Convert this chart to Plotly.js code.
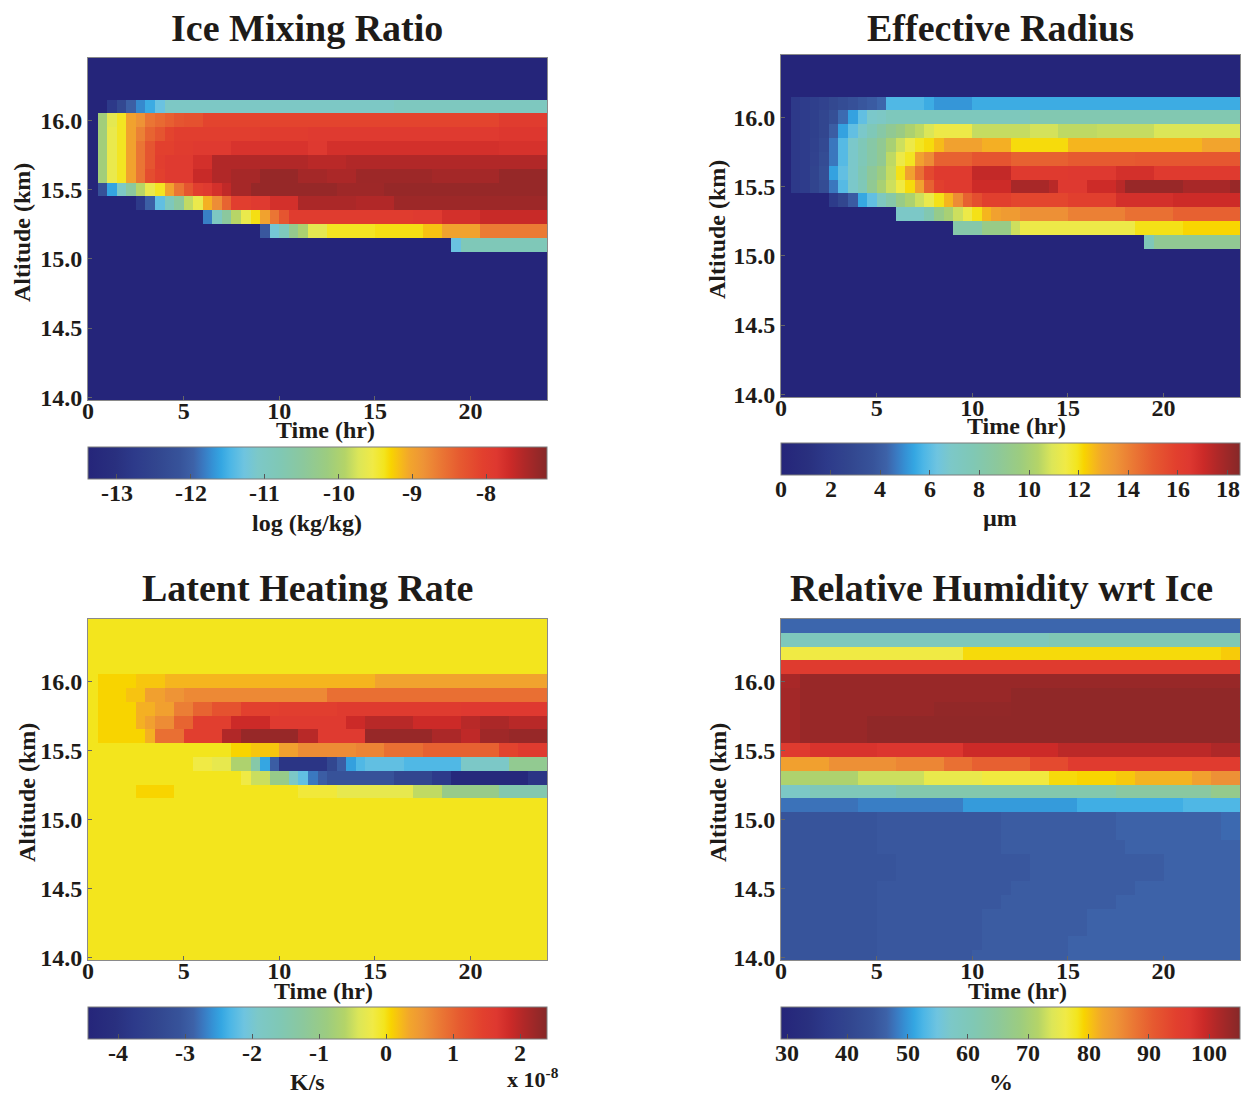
<!DOCTYPE html>
<html>
<head>
<meta charset="utf-8">
<script src="https://cdn.plot.ly/plotly-3.0.1.min.js"></script>
<style>
  html, body { margin: 0; padding: 0; background: #ffffff; }
  #chart { width: 1243px; height: 1095px; }
</style>
</head>
<body>
<div id="chart"></div>
<script>
// ---------------- DATA ----------------
// time (hr): cell centres, 0.5 hr bins
const timeHr = [0.25,0.75,1.25,1.75,2.25,2.75,3.25,3.75,4.25,4.75,5.25,5.75,6.25,6.75,7.25,7.75,
  8.25,8.75,9.25,9.75,10.25,10.75,11.25,11.75,12.25,12.75,13.25,13.75,14.25,14.75,15.25,15.75,
  16.25,16.75,17.25,17.75,18.25,18.75,19.25,19.75,20.25,20.75,21.25,21.75,22.25,22.75,23.25,23.75];
// altitude (km): cell centres, bottom to top
const altKm = [14.0,14.1,14.2,14.3,14.4,14.5,14.6,14.7,14.8,14.9,15.0,15.1,15.2,15.3,15.4,15.5,15.6,15.7,15.8,15.9,16.0,16.1,16.2,16.3,16.4];

const timeTicks = [0,5,10,15,20];
const altTicks = [14.0,14.5,15.0,15.5,16.0];

// Each row = run-length list of [number of 0.5-hr cells, value], rows ordered as altKm.
// Ice mixing ratio, log10(kg/kg)
const iceRows = [
  [[48,-13.4]],[[48,-13.4]],[[48,-13.4]],[[48,-13.4]],[[48,-13.4]],[[48,-13.4]],
  [[48,-13.4]],[[48,-13.4]],[[48,-13.4]],[[48,-13.4]],[[48,-13.4]],
  /*15.1*/[[38,-13.4],[1,-11.3],[9,-10.85]],
  /*15.2*/[[18,-13.4],[1,-12.1],[1,-11.2],[1,-10.9],[1,-10.3],[1,-10.0],[2,-9.65],[5,-9.4],[5,-9.35],[2,-9.2],[4,-9.0],[7,-8.65]],
  /*15.3*/[[12,-13.4],[1,-11.8],[1,-11.0],[1,-10.5],[1,-9.9],[1,-9.6],[1,-9.35],[1,-9.0],[1,-8.6],[1,-8.3],[13,-7.95],[3,-7.9],[4,-7.75],[7,-7.65]],
  /*15.4*/[[5,-13.4],[1,-12.8],[1,-12.0],[1,-11.35],[1,-10.9],[1,-10.5],[1,-9.85],[1,-9.6],[1,-9.1],[1,-8.8],[1,-8.45],[2,-8.0],[2,-7.9],[3,-7.75],[6,-7.45],[4,-7.5],[16,-7.35]],
  /*15.5*/[[1,-13.4],[1,-12.2],[1,-11.6],[1,-11.05],[1,-10.5],[1,-9.9],[1,-9.6],[1,-9.4],[1,-9.0],[1,-8.6],[1,-8.3],[1,-8.0],[1,-7.9],[1,-7.75],[1,-7.6],[2,-7.42],[9,-7.3],[5,-7.36],[17,-7.3]],
  /*15.6*/[[1,-13.4],[1,-10.1],[1,-9.6],[1,-9.4],[1,-9.0],[1,-8.6],[1,-8.2],[1,-8.05],[3,-7.9],[2,-7.65],[2,-7.5],[3,-7.42],[4,-7.3],[3,-7.4],[3,-7.45],[8,-7.35],[7,-7.4],[5,-7.3]],
  /*15.7*/[[1,-13.4],[1,-10.1],[1,-9.6],[1,-9.4],[1,-9.0],[1,-8.6],[1,-8.3],[1,-8.0],[3,-7.9],[2,-7.75],[10,-7.5],[4,-7.55],[21,-7.5]],
  /*15.8*/[[1,-13.4],[1,-10.1],[1,-9.6],[1,-9.4],[1,-9.0],[1,-8.6],[1,-8.3],[2,-8.05],[2,-7.95],[4,-7.9],[8,-7.8],[2,-7.88],[18,-7.75],[5,-7.78]],
  /*15.9*/[[1,-13.4],[1,-10.1],[1,-9.6],[1,-9.4],[1,-9.0],[1,-8.7],[1,-8.45],[1,-8.3],[1,-8.1],[9,-8.0],[5,-7.95],[20,-7.9],[5,-7.85]],
  /*16.0*/[[1,-13.4],[1,-10.1],[1,-9.65],[1,-9.4],[1,-9.0],[1,-8.85],[1,-8.6],[1,-8.5],[1,-8.4],[1,-8.3],[2,-8.25],[31,-8.1],[5,-7.95]],
  /*16.1*/[[2,-13.4],[1,-12.8],[1,-12.4],[1,-12.0],[1,-11.75],[1,-11.55],[1,-11.3],[24,-11.05],[16,-10.95]],
  [[48,-13.4]],[[48,-13.4]],[[48,-13.4]]
];

// Effective radius, micrometres
const reffRows = [
  [[48,0]],[[48,0]],[[48,0]],[[48,0]],[[48,0]],[[48,0]],
  [[48,0]],[[48,0]],[[48,0]],[[48,0]],[[48,0]],
  /*15.1*/[[38,0],[1,7.6],[9,9.0]],
  /*15.2*/[[18,0],[3,8.2],[3,9.4],[1,10.7],[12,11.4],[5,12.0],[6,12.2]],
  /*15.3*/[[12,0],[3,6.9],[1,7.9],[1,9.3],[1,10.0],[1,10.7],[1,11.4],[1,12.0],[1,12.7],[1,13.1],[2,13.3],[5,13.6],[6,14.0],[5,14.4],[7,14.8]],
  /*15.4*/[[5,0],[1,1.9],[1,2.8],[1,4.0],[1,5.4],[1,6.1],[1,7.2],[1,8.2],[1,9.4],[1,10.1],[1,10.7],[1,11.3],[1,12.0],[1,12.7],[1,13.7],[1,14.8],[1,15.4],[3,16.0],[6,15.7],[5,16.0],[6,16.8],[7,17.0]],
  /*15.5*/[[1,0],[1,1.8],[1,2.0],[1,2.6],[1,3.2],[1,4.6],[1,5.9],[1,6.8],[1,7.6],[1,9.0],[1,10.0],[1,10.7],[1,11.5],[1,12.1],[1,13.1],[1,14.8],[1,16.0],[3,16.3],[4,17.0],[4,17.75],[1,17.4],[3,16.4],[3,17.0],[1,17.4],[6,18.1],[5,17.75],[1,18.1]],
  /*15.6*/[[1,0],[1,1.8],[1,2.0],[1,2.6],[1,3.4],[1,5.3],[1,6.1],[1,6.8],[1,7.8],[1,8.8],[1,9.6],[1,10.6],[1,12.0],[1,13.1],[1,14.4],[1,15.6],[4,16.3],[4,17.2],[6,16.3],[5,16.4],[4,16.8],[9,16.3]],
  /*15.7*/[[1,0],[1,1.8],[1,2.0],[1,2.5],[1,3.2],[1,4.6],[1,5.9],[1,6.8],[1,7.6],[1,8.3],[1,9.0],[1,10.5],[1,11.4],[1,11.9],[1,13.1],[1,13.7],[4,14.8],[4,15.2],[6,14.8],[7,15.0],[11,15.1]],
  /*15.8*/[[1,0],[1,1.8],[1,2.0],[1,2.4],[1,3.0],[1,4.6],[1,5.9],[1,6.8],[1,7.6],[1,8.3],[1,9.0],[1,10.0],[1,10.7],[1,11.4],[1,11.9],[1,12.1],[1,12.6],[4,13.1],[3,12.8],[6,12.1],[14,12.7],[4,13.0]],
  /*15.9*/[[1,0],[1,1.8],[1,2.0],[1,2.3],[1,2.8],[1,4.1],[1,5.3],[1,6.1],[1,6.8],[1,7.6],[1,8.3],[1,9.0],[1,9.5],[1,10.1],[1,10.5],[1,10.9],[4,11.4],[6,10.6],[3,10.8],[4,10.5],[6,10.6],[9,10.9]],
  /*16.0*/[[1,0],[1,1.8],[1,2.0],[1,2.3],[1,2.8],[1,3.4],[1,4.4],[1,5.3],[1,6.1],[1,6.8],[1,7.0],[15,7.4],[22,7.9]],
  /*16.1*/[[1,0],[1,1.8],[1,2.0],[1,2.2],[1,2.5],[1,2.9],[1,3.2],[1,3.5],[1,3.8],[1,4.0],[1,4.3],[4,5.8],[1,5.5],[4,5.1],[28,5.5]],
  [[48,0]],[[48,0]],[[48,0]]
];

// Latent heating rate, 1e-8 K/s
const lhrRows = [
  [[48,-0.03]],[[48,-0.03]],[[48,-0.03]],[[48,-0.03]],[[48,-0.03]],[[48,-0.03]],
  [[48,-0.03]],[[48,-0.03]],[[48,-0.03]],[[48,-0.03]],[[48,-0.03]],[[48,-0.03]],
  /*15.2*/[[5,-0.03],[4,0.07],[13,-0.03],[4,-0.15],[8,-0.3],[3,-0.55],[6,-1.0],[5,-1.5]],
  /*15.3*/[[16,-0.03],[1,-0.2],[2,-0.5],[2,-1.0],[1,-1.9],[1,-2.2],[1,-2.74],[1,-2.94],[7,-3.1],[4,-3.42],[2,-3.77],[8,-4.3],[2,-3.9]],
  /*15.4*/[[11,-0.03],[2,-0.2],[2,-0.3],[2,-0.68],[1,-1.4],[1,-2.46],[1,-2.94],[5,-3.9],[1,-3.4],[1,-2.94],[1,-2.5],[1,-2.3],[4,-2.2],[6,-2.3],[5,-1.9],[4,-1.1]],
  /*15.5*/[[15,-0.03],[2,0.07],[3,0.15],[2,0.41],[6,0.62],[3,0.7],[4,0.89],[8,1.03],[2,1.4],[3,1.58]],
  /*15.6*/[[1,-0.03],[5,0.07],[1,0.28],[3,0.89],[4,1.5],[2,2.05],[6,2.26],[2,2.0],[5,1.6],[7,2.26],[3,2.1],[2,1.95],[3,2.2],[4,2.26]],
  /*15.7*/[[1,-0.03],[4,0.07],[1,0.28],[1,0.41],[2,0.62],[2,1.0],[4,1.5],[4,1.85],[8,1.6],[2,1.85],[5,2.0],[5,1.85],[2,2.0],[3,2.1],[4,2.0]],
  /*15.8*/[[1,-0.03],[4,0.07],[2,0.28],[2,0.41],[2,0.75],[2,1.0],[3,1.2],[4,1.44],[6,1.5],[13,1.58],[9,1.62]],
  /*15.9*/[[1,-0.03],[3,0.07],[2,0.17],[2,0.41],[2,0.55],[15,0.65],[23,0.89]],
  /*16.0*/[[1,-0.03],[4,0.07],[3,0.15],[22,0.25],[18,0.38]],
  [[48,-0.03]],[[48,-0.03]],[[48,-0.03]],[[48,-0.03]]
];

// Relative humidity wrt ice, %
const rhRows = [
  /*14.0*/[[10,44.4],[10,44.8],[10,45.6],[18,46.5]],
  /*14.1*/[[10,44.4],[11,44.8],[9,45.6],[18,46.5]],
  /*14.2*/[[10,44.4],[11,44.8],[11,45.6],[16,46.5]],
  /*14.3*/[[10,44.4],[11,44.8],[11,45.6],[16,46.5]],
  /*14.4*/[[10,44.4],[13,44.8],[12,45.6],[13,46.5]],
  /*14.5*/[[10,44.4],[14,44.8],[13,45.6],[11,46.5]],
  /*14.6*/[[12,44.4],[14,44.8],[14,45.6],[8,46.5]],
  /*14.7*/[[12,44.4],[14,44.8],[14,45.6],[8,46.5]],
  /*14.8*/[[10,44.4],[13,44.8],[13,45.6],[12,46.5]],
  /*14.9*/[[10,44.4],[13,44.8],[12,45.6],[11,46.5],[2,47.0]],
  /*15.0*/[[10,44.4],[13,44.8],[12,45.6],[11,46.5],[2,47.0]],
  /*15.1*/[[8,47.6],[11,48.4],[12,50.3],[11,51.8],[6,52.8]],
  /*15.2*/[[3,57.5],[9,60],[23,62],[10,64],[3,67]],
  /*15.3*/[[8,70.8],[7,73],[6,75.4],[7,76.5],[3,78.8],[4,79.2],[2,80],[6,81.4],[2,83],[3,85]],
  /*15.4*/[[5,83],[7,85],[5,86],[3,88.3],[6,90],[4,93],[18,95.8]],
  /*15.5*/[[3,96],[7,97.5],[9,97],[10,99],[16,100.4],[3,101.5]],
  /*15.6*/[[2,102.5],[7,103.5],[39,104.2]],
  /*15.7*/[[2,102.5],[7,103.5],[39,104.2]],
  /*15.8*/[[2,102.5],[14,103.5],[8,104],[24,104.2]],
  /*15.9*/[[2,102.5],[22,103.5],[24,104.2]],
  /*16.0*/[[2,102],[46,103.5]],
  /*16.1*/[[48,96]],
  /*16.2*/[[19,76.3],[27,78.8],[2,79.8]],
  /*16.3*/[[28,59.5],[20,61]],
  /*16.4*/[[48,46.8]]
];

const titles = ['Ice Mixing Ratio','Effective Radius','Latent Heating Rate','Relative Humidity wrt Ice'];
const units = ['log (kg/kg)','\u00b5m','K/s','%'];
const cbRanges = [[-13.39,-7.18],[0,18.5],[-4.45,2.4],[29,105.1]];
const cbTicks = [[-13,-12,-11,-10,-9,-8],[0,2,4,6,8,10,12,14,16,18],[-4,-3,-2,-1,0,1,2],[30,40,50,60,70,80,90,100]];
const cbTickText = [['-13','-12','-11','-10','-9','-8'],['0','2','4','6','8','10','12','14','16','18'],
  ['-4','-3','-2','-1','0','1','2'],['30','40','50','60','70','80','90','100']];

// ---------------- STYLE / LAYOUT ----------------
const W = 1243, H = 1095;
const px = x => x / W;
const py = y => 1 - y / H;

const jetScale = [
  [0.00,'#25257a'],[0.06,'#29307f'],[0.10,'#2d3a8a'],[0.15,'#32468f'],[0.20,'#37539a'],
  [0.23,'#3d62a8'],[0.25,'#3a78c0'],[0.27,'#3590d4'],[0.29,'#34a6e2'],[0.31,'#4cb6e6'],
  [0.34,'#6ec4e0'],[0.37,'#7cc8c8'],[0.42,'#80c8b4'],[0.47,'#8cc89c'],[0.52,'#9ccc80'],
  [0.56,'#b4d468'],[0.59,'#dce658'],[0.62,'#f0ea46'],[0.645,'#f3e51e'],[0.66,'#f8d400'],
  [0.68,'#f6bc18'],[0.70,'#f2a62c'],[0.73,'#ee9436'],[0.77,'#ea7634'],[0.81,'#e65a30'],
  [0.86,'#e2402e'],[0.89,'#de3830'],[0.92,'#cc2a28'],[0.95,'#b02828'],[1.00,'#862828']
];

const FAM = '"Liberation Serif", "Times New Roman", serif';
const INK = '#1e1b18';
const tickFont = {family: FAM, size: 24, color: INK, weight: 'bold'};

const boxes = [
  {x0: 88,  x1: 547,  y0: 58,  y1: 400, cbTop: 447,  cbLab: 493},
  {x0: 781, x1: 1240, y0: 55,  y1: 397, cbTop: 443,  cbLab: 489},
  {x0: 88,  x1: 547,  y0: 619, y1: 960, cbTop: 1007, cbLab: 1053},
  {x0: 781, x1: 1240, y0: 619, y1: 960, cbTop: 1007, cbLab: 1053}
];
const allRows = [iceRows, reffRows, lhrRows, rhRows];

function expand(rle) {
  const out = [];
  rle.forEach(([n, v]) => { for (let i = 0; i < n; i++) out.push(v); });
  return out;
}

function ann(text, x, y, size, extra) {
  return Object.assign({
    text: text, x: px(x), y: py(y), xref: 'paper', yref: 'paper',
    xanchor: 'center', yanchor: 'middle', showarrow: false,
    font: {family: FAM, size: size, color: INK, weight: 'bold'}
  }, extra || {});
}

const traces = [];
const layout = {
  width: W, height: H,
  margin: {l: 0, r: 0, t: 0, b: 0},
  paper_bgcolor: '#ffffff', plot_bgcolor: '#ffffff',
  showlegend: false,
  annotations: []
};

boxes.forEach((b, i) => {
  const k = i === 0 ? '' : String(i + 1);
  const [zmin, zmax] = cbRanges[i];
  traces.push({
    type: 'heatmap',
    x: timeHr, y: altKm, z: allRows[i].map(expand),
    xaxis: 'x' + k, yaxis: 'y' + k,
    colorscale: jetScale, zmin: zmin, zmax: zmax,
    zsmooth: false, hoverinfo: 'skip',
    colorbar: {
      orientation: 'h',
      x: px((b.x0 + b.x1) / 2), xanchor: 'center', xref: 'paper',
      y: py(b.cbTop), yanchor: 'top', yref: 'paper',
      len: b.x1 - b.x0, lenmode: 'pixels',
      thickness: 32, thicknessmode: 'pixels',
      xpad: 0, ypad: 0,
      outlinewidth: 1, outlinecolor: '#7d7d7d',
      tickmode: 'array', tickvals: cbTicks[i], ticktext: cbTickText[i],
      ticks: 'inside', ticklen: 5, tickcolor: '#555',
      showticklabels: false
    }
  });
  // colour-bar tick labels, placed at the colour-bar's value positions
  cbTicks[i].forEach((t, j) => {
    const xpix = b.x0 + (t - zmin) / (zmax - zmin) * (b.x1 - b.x0);
    layout.annotations.push(ann(cbTickText[i][j], xpix, b.cbLab, 24));
  });
  layout['xaxis' + k] = {
    domain: [px(b.x0), px(b.x1)], range: [0, 24], anchor: 'y' + k,
    tickvals: timeTicks, ticks: 'inside', ticklen: 4, tickcolor: '#666',
    ticklabelstandoff: -11,
    showline: true, mirror: true, linecolor: '#8a8a8a', linewidth: 1,
    showgrid: false, zeroline: false, tickfont: tickFont
  };
  layout['yaxis' + k] = {
    domain: [py(b.y1), py(b.y0)], range: [13.98, 16.45], anchor: 'x' + k,
    tickvals: altTicks, tickformat: '.1f', ticks: 'inside', ticklen: 4, tickcolor: '#666',
    showline: true, mirror: true, linecolor: '#8a8a8a', linewidth: 1,
    showgrid: false, zeroline: false, tickfont: tickFont
  };
});

// titles and labels
const titlePos = [[307, 28], [1000, 28], [307, 588], [1001, 588]];
const altPos = [[22, 233], [717, 230], [27, 793], [718, 793]];
const timePos = [[325, 430], [1016, 426], [323, 991], [1017, 991]];
const unitPos = [[307, 523], [1000, 518], [307, 1082], [1001, 1082]];

for (let i = 0; i < 4; i++) {
  layout.annotations.push(ann(titles[i], titlePos[i][0], titlePos[i][1], 38));
  layout.annotations.push(ann('Altitude (km)', altPos[i][0], altPos[i][1], 24, {textangle: -90}));
  layout.annotations.push(ann('Time (hr)', timePos[i][0], timePos[i][1], 24));
  layout.annotations.push(ann(units[i], unitPos[i][0], unitPos[i][1], 24));
}
layout.annotations.push(ann('x 10<sup>-8</sup>', 533, 1078, 22));

Plotly.newPlot('chart', traces, layout, {staticPlot: true, displayModeBar: false});
</script>
</body>
</html>
